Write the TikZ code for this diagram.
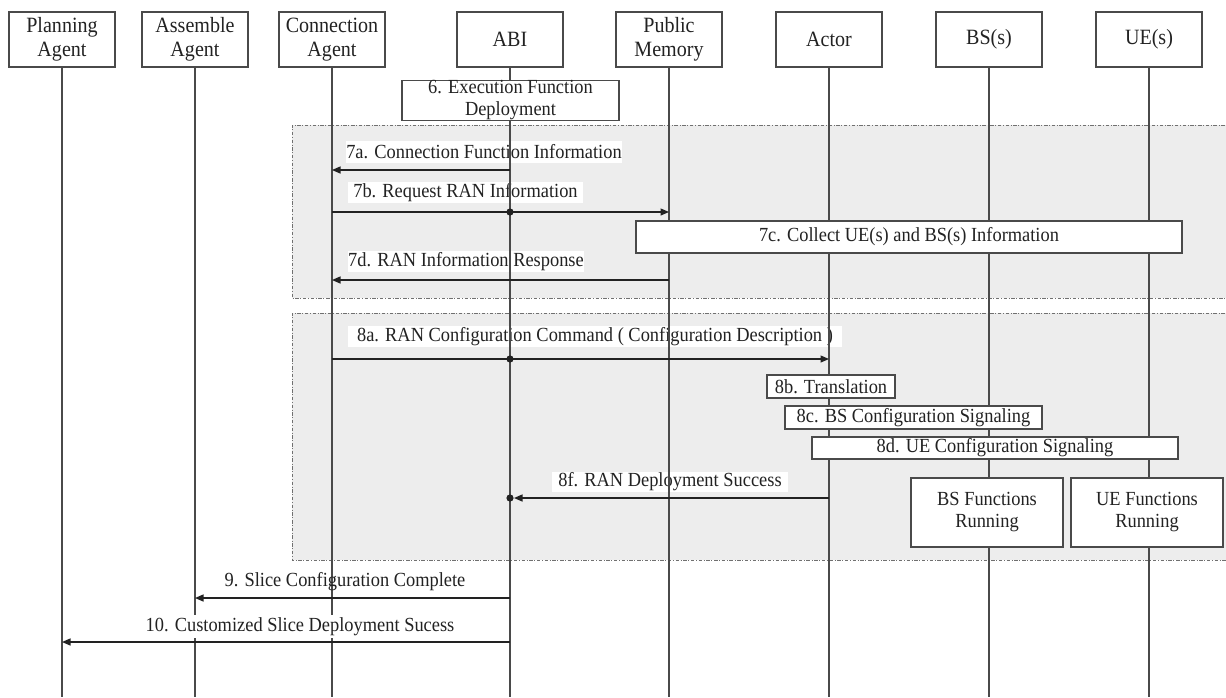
\documentclass[tikz,border=0pt]{standalone}
\usepackage{fontspec}
\setmainfont{Liberation Serif}[FakeStretch=0.92]
\usetikzlibrary{arrows.meta}

\definecolor{inkc}{HTML}{222222}
\definecolor{linec}{HTML}{4A4A4A}
\definecolor{zonefill}{HTML}{EDEDED}
\definecolor{zoneline}{HTML}{707070}

\tikzset{
  txt/.style={font=\fontsize{20}{22}\selectfont, text=inkc},
  headtxt/.style={font=\fontsize{21.8}{24}\selectfont, text=inkc},
  headbox/.style={headtxt, draw=linec, line width=1.2pt, fill=white, align=center,
    minimum width=106pt, minimum height=55pt, inner sep=0pt},
  actbox/.style={txt, draw=linec, line width=1.2pt, fill=white, align=center, inner sep=0pt},
  life/.style={draw=linec, line width=1.2pt},
  msg/.style={draw=inkc, line width=1.3pt, -{Triangle[length=8.5pt,width=7pt]}},
  lbl/.style={txt, fill=white, inner sep=0pt},
  lblplain/.style={txt, inner sep=0pt},
  zone/.style={fill=zonefill, draw=zoneline, line width=1pt,
    dash pattern=on 3.5pt off 1.6pt on 1pt off 1.6pt},
  dotmark/.style={fill=inkc}
}

\begin{document}
\begin{tikzpicture}[x=1pt,y=-1pt]
  \useasboundingbox (0,0) rectangle (1226,697);
  \fill[white] (0,0) rectangle (1226,697);

  % shaded phase zones (open to the right)
  \path[zone] (1240,125) -- (292,125) -- (292,298) -- (1240,298);
  \path[zone] (1240,313) -- (292,313) -- (292,560) -- (1240,560);

  % message rows
  \coordinate (y7a) at (0,170);
  \coordinate (y7b) at (0,212);
  \coordinate (y7d) at (0,280);
  \coordinate (y8a) at (0,359);
  \coordinate (y8f) at (0,498);
  \coordinate (y9)  at (0,598);
  \coordinate (y10) at (0,642);
  \coordinate (bottom) at (0,697);

  % message labels on white strips (lifelines pass over them)
  \node[lbl, minimum width=274pt, minimum height=22pt] (l7a) at (484,152) {7a. Connection Function Information};
  \node[lbl, minimum width=235pt, minimum height=21pt] (l7b) at (465.5,192.5) {7b. Request RAN Information};
  \node[lbl, minimum width=236pt, minimum height=21pt] (l7d) at (466,261.5) {7d. RAN Information Response};
  \node[lbl, minimum width=494pt, minimum height=21pt] (l8a) at (595,336.5) {8a. RAN Configuration Command ( Configuration Description )};
  \node[lbl, minimum width=236pt, minimum height=20pt] (l8f) at (670,482) {8f. RAN Deployment Success};

  % participants
  \node[headbox] (hP)   at (62,39.5)   {Planning\\Agent};
  \node[headbox] (hAs)  at (195,39.5)  {Assemble\\Agent};
  \node[headbox] (hC)   at (332,39.5)  {Connection\\Agent};
  \node[headbox] (hABI) at (510,39.5)  {ABI};
  \node[headbox] (hPM)  at (669,39.5)  {Public\\Memory};
  \node[headbox] (hAct) at (829,39.5)  {Actor};
  \node[headbox] (hBS)  at (989,39.5)  {BS(s)};
  \node[headbox] (hUE)  at (1149,39.5) {UE(s)};

  % lifelines
  \foreach \h in {hP,hAs,hC,hABI,hPM,hAct,hBS,hUE}
    \draw[life] (\h.south) -- (\h.south |- bottom);

  % activity boxes
  \node[actbox, minimum width=217pt, minimum height=39pt] (a6) at (510.5,100.5) {6. Execution Function\\Deployment};
  \node[actbox, minimum width=546pt, minimum height=32pt] (a7c) at (909,237) {7c. Collect UE(s) and BS(s) Information};
  \node[actbox, minimum width=128pt, minimum height=23pt] (a8b) at (831,386.5) {8b. Translation};
  \node[actbox, minimum width=257pt, minimum height=23pt] (a8c) at (913.5,417.5) {8c. BS Configuration Signaling};
  \node[actbox, minimum width=366pt, minimum height=22pt] (a8d) at (995,448) {8d. UE Configuration Signaling};
  \node[actbox, minimum width=152pt, minimum height=69pt] (aBS) at (987,512.5) {BS Functions\\Running};
  \node[actbox, minimum width=152pt, minimum height=69pt] (aUE) at (1147,512.5) {UE Functions\\Running};

  % messages
  \draw[msg] (hABI |- y7a) -- (hC |- y7a);
  \draw[msg] (hC |- y7b) -- (hPM |- y7b);
  \fill[dotmark] (hABI |- y7b) circle (3.6pt);
  \draw[msg] (hPM |- y7d) -- (hC |- y7d);
  \draw[msg] (hC |- y8a) -- (hAct |- y8a);
  \fill[dotmark] (hABI |- y8a) circle (3.6pt);
  \draw[msg, shorten >=4pt] (hAct |- y8f) -- (hABI |- y8f);
  \fill[dotmark] (hABI |- y8f) circle (3.6pt);
  \draw[msg] (hABI |- y9) -- (hAs |- y9);
  \draw[msg] (hABI |- y10) -- (hP |- y10);

  % closing labels
  \node[lblplain] (l9) at (345,582) {9. Slice Configuration Complete};
  \node[lbl, minimum width=320pt, minimum height=23pt] (l10) at (300,626.5) {10. Customized Slice Deployment Sucess};
\end{tikzpicture}
\end{document}
